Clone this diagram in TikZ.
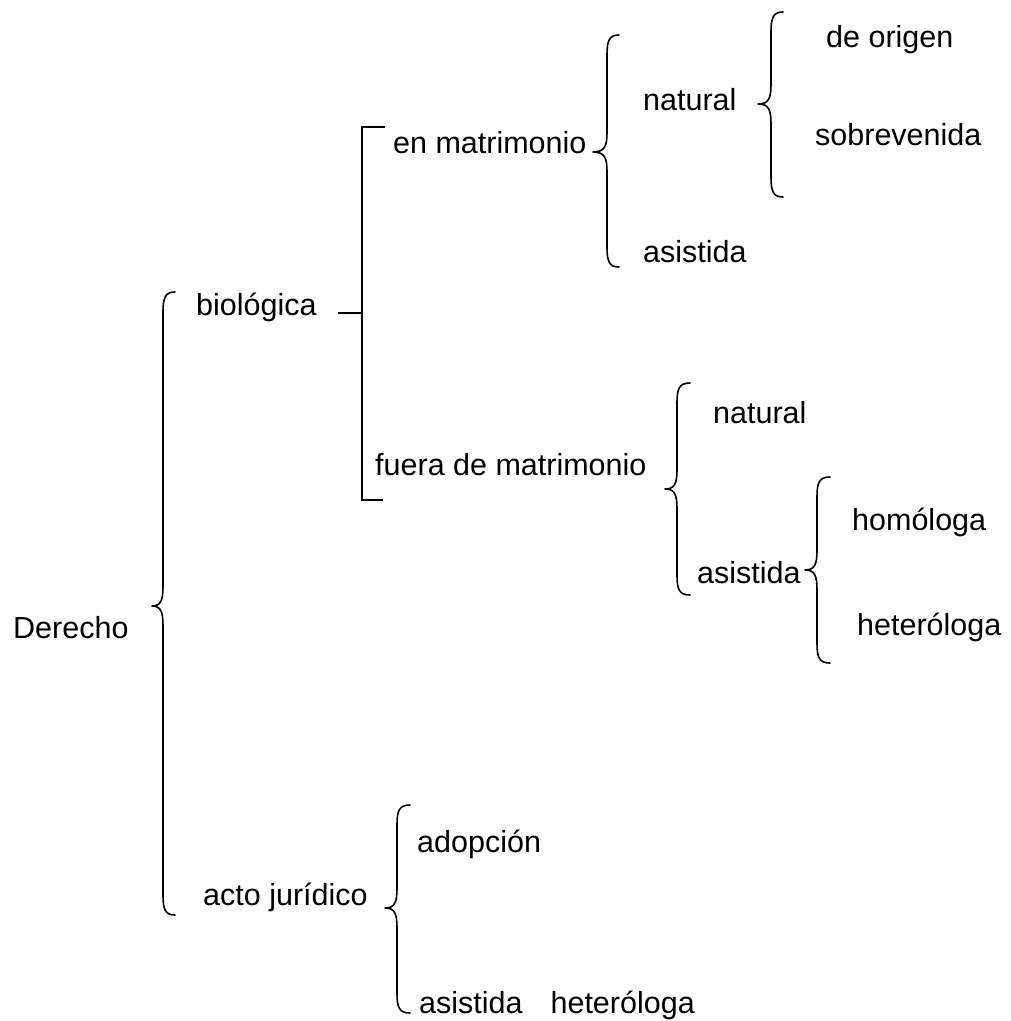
\documentclass[tikz,border=0pt]{standalone}
\usepackage{fontspec}
\setmainfont{Liberation Sans}
% Curly brace opening to the right:
% #1 spine x, #2 end x, #3 tip x, #4 top y, #5 tip y, #6 bottom y
\newcommand\curlyL[6]{%
  \draw[brace line] (#2,#4) .. controls (#1+2,#4) and (#1,#4+6) .. (#1,#4+20)
    -- (#1,#5-20) .. controls (#1,#5-6) and (#1-2,#5) .. (#3,#5)
    .. controls (#1-2,#5) and (#1,#5+6) .. (#1,#5+20)
    -- (#1,#6-20) .. controls (#1,#6-6) and (#1+2,#6) .. (#2,#6);}
\begin{document}
\begin{tikzpicture}[x=1pt,y=-1pt,
  label text/.style={anchor=base west,inner sep=0pt,font=\fontsize{30.5}{36}\selectfont},
  brace line/.style={line width=1.6pt,line join=round,line cap=round}]
\useasboundingbox (0,0) rectangle (1011,1021);

% labels
\node[label text] (derecho) at (13,638) {Derecho};
\node[label text] (bio) at (196,315) {biológica};
\node[label text] (acto) at (203,905) {acto jurídico};
\node[label text] (enmat) at (393,153) {en matrimonio};
\node[label text] (fuera) at (375,475) {fuera de matrimonio};
\node[label text] (nat1) at (643,110) {natural};
\node[label text] (asis1) at (643,262) {asistida};
\node[label text] (origen) at (826,47) {de origen};
\node[label text] (sobre) at (815,145) {sobrevenida};
\node[label text] (nat2) at (713,423) {natural};
\node[label text] (asis2) at (697,583) {asistida};
\node[label text] (homo) at (852,530) {homóloga};
\node[label text] (hetero) at (857,635) {heteróloga};
\node[label text] (adop) at (417,852) {adopción};
\node[label text] (asis3) at (419,1013) {asistida\hspace{28pt}heteróloga};

% braces
\curlyL{163}{175}{152}{292}{606}{915}
\curlyL{607}{619}{593}{35}{152}{267}
\curlyL{771}{783}{758}{12}{104}{197}
\curlyL{677}{690}{665}{383}{489}{595}
\curlyL{817}{830}{805}{477}{570}{663}
\curlyL{397}{410}{385}{805}{908}{1013}

% square bracket joining biológica to its two branches
\draw[brace line,line cap=butt] (338,313) -- (362,313);
\draw[brace line,line cap=butt,line join=miter] (385,127) -- (362,127) -- (362,500) -- (383,500);
\end{tikzpicture}
\end{document}
